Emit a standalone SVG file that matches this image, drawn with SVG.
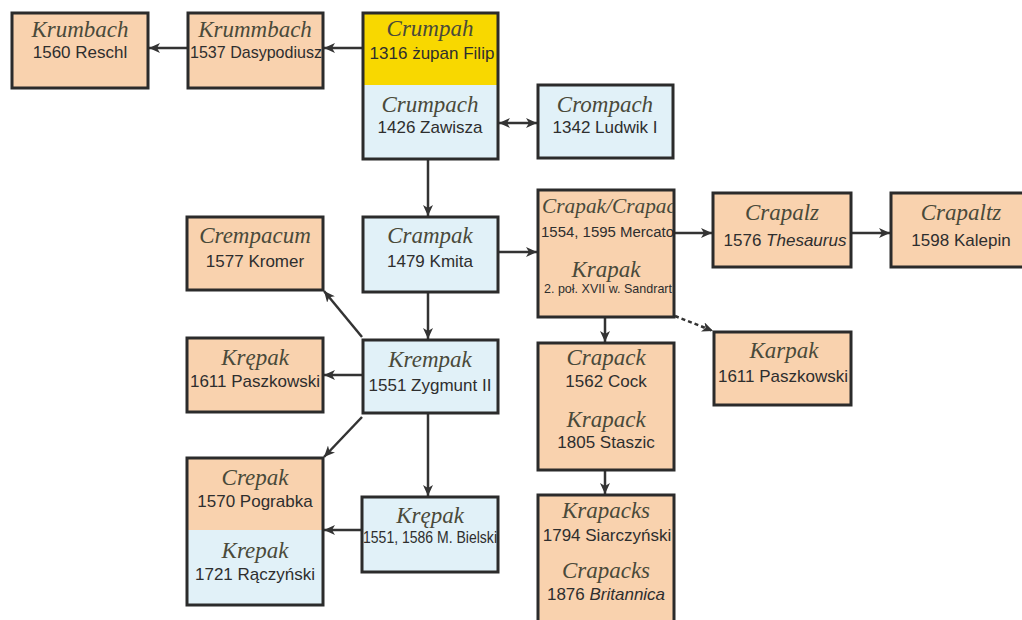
<svg xmlns="http://www.w3.org/2000/svg" width="1022" height="620" viewBox="0 0 1022 620">
<style>
.box{stroke:#2b2b2b;stroke-width:3}
.or{fill:#f9d2ae}
.bl{fill:#e1f1f8}
.ye{fill:#f8d800}
.nm{font-family:"Liberation Serif",serif;font-style:italic;font-size:23px;fill:#4a4a3a;text-anchor:middle}
.nu{font-family:"Liberation Sans",Arial,sans-serif;font-size:17px;fill:#2e2e2e;text-anchor:middle}
.it{font-style:italic}
.ln{stroke:#333;stroke-width:2.5;fill:none}
</style>
<defs>
<marker id="ah" markerUnits="userSpaceOnUse" markerWidth="12" markerHeight="10" refX="11" refY="5" orient="auto-start-reverse">
<path d="M0,0 L11,5 L0,10 L3,5 z" fill="#333"/>
</marker>
<clipPath id="c7"><rect x="540" y="191" width="133" height="125"/></clipPath>
</defs>
<rect width="1022" height="620" fill="#ffffff"/>

<g id="connectors">
<line class="ln" x1="188" y1="48" x2="149" y2="48" marker-end="url(#ah)"/>
<line class="ln" x1="363" y1="48" x2="324" y2="48" marker-end="url(#ah)"/>
<line class="ln" x1="499" y1="123" x2="537" y2="123" marker-start="url(#ah)" marker-end="url(#ah)"/>
<line class="ln" x1="428" y1="159" x2="428" y2="216" marker-end="url(#ah)"/>
<line class="ln" x1="428" y1="292" x2="428" y2="339" marker-end="url(#ah)"/>
<line class="ln" x1="362" y1="337" x2="324" y2="291" marker-end="url(#ah)"/>
<line class="ln" x1="363" y1="375" x2="324" y2="375" marker-end="url(#ah)"/>
<line class="ln" x1="362" y1="417" x2="324" y2="457" marker-end="url(#ah)"/>
<line class="ln" x1="428" y1="413" x2="428" y2="496" marker-end="url(#ah)"/>
<line class="ln" x1="362" y1="530" x2="324" y2="530" marker-end="url(#ah)"/>
<line class="ln" x1="498" y1="252" x2="537" y2="252" marker-end="url(#ah)"/>
<line class="ln" x1="674" y1="233" x2="712" y2="233" marker-end="url(#ah)"/>
<line class="ln" x1="851" y1="233" x2="890" y2="233" marker-end="url(#ah)"/>
<line class="ln" x1="605" y1="317" x2="605" y2="342" marker-end="url(#ah)"/>
<line class="ln" x1="675" y1="316" x2="713" y2="331" stroke-dasharray="4,3" marker-end="url(#ah)"/>
<line class="ln" x1="605" y1="470" x2="605" y2="494" marker-end="url(#ah)"/>
</g>

<g id="n-krumbach">
<rect class="box or" x="12" y="13" width="136" height="75"/>
<text class="nm" x="80" y="37">Krumbach</text>
<text class="nu" x="80" y="58">1560 Reschl</text>
</g>

<g id="n-krummbach">
<rect class="box or" x="188" y="13" width="135" height="75"/>
<text class="nm" x="255" y="37">Krummbach</text>
<text class="nu" x="256" y="58" textLength="132" lengthAdjust="spacingAndGlyphs">1537 Dasypodiusz</text>
</g>

<g id="n-crumpah">
<rect class="ye" x="363" y="13" width="135" height="72"/>
<rect class="bl" x="363" y="85" width="135" height="74"/>
<rect class="box" x="363" y="13" width="135" height="146" fill="none"/>
<text class="nm" x="430" y="36">Crumpah</text>
<text class="nu" x="432" y="59">1316 żupan Filip</text>
<text class="nm" x="430" y="112">Crumpach</text>
<text class="nu" x="430" y="133">1426 Zawisza</text>
</g>

<g id="n-crompach">
<rect class="box bl" x="538" y="85" width="135" height="73"/>
<text class="nm" x="605" y="112">Crompach</text>
<text class="nu" x="605" y="133">1342 Ludwik I</text>
</g>

<g id="n-crempacum">
<rect class="box or" x="187" y="217" width="136" height="73"/>
<text class="nm" x="255" y="243">Crempacum</text>
<text class="nu" x="255" y="267">1577 Kromer</text>
</g>

<g id="n-crampak">
<rect class="box bl" x="363" y="217" width="135" height="75"/>
<text class="nm" x="430" y="243">Crampak</text>
<text class="nu" x="430" y="267">1479 Kmita</text>
</g>

<g id="n-crapak">
<rect class="box or" x="538" y="190" width="136" height="127"/>
<g clip-path="url(#c7)">
<text class="nm" x="542" y="213" style="text-anchor:start;font-size:21px" textLength="134" lengthAdjust="spacingAndGlyphs">Crapak/Crapac</text>
<text class="nu" x="541" y="237" style="text-anchor:start;font-size:14px" textLength="138" lengthAdjust="spacingAndGlyphs">1554, 1595 Mercator</text>
<text class="nm" x="606" y="277">Krapak</text>
<text class="nu" x="544" y="293" style="text-anchor:start;font-size:13px" textLength="128" lengthAdjust="spacingAndGlyphs">2. poł. XVII w. Sandrart</text>
</g>
</g>

<g id="n-crapalz">
<rect class="box or" x="713" y="193" width="138" height="74"/>
<text class="nm" x="782" y="220">Crapalz</text>
<text class="nu" x="785" y="246">1576 <tspan class="it">Thesaurus</tspan></text>
</g>

<g id="n-crapaltz">
<rect class="box or" x="891" y="193" width="140" height="74"/>
<text class="nm" x="961" y="220">Crapaltz</text>
<text class="nu" x="961" y="246">1598 Kalepin</text>
</g>

<g id="n-krempak2">
<rect class="box or" x="187" y="338" width="136" height="74"/>
<text class="nm" x="255" y="365">Krępak</text>
<text class="nu" x="255" y="387">1611 Paszkowski</text>
</g>

<g id="n-krempak">
<rect class="box bl" x="363" y="340" width="135" height="73"/>
<text class="nm" x="430" y="367">Krempak</text>
<text class="nu" x="430" y="391">1551 Zygmunt II</text>
</g>

<g id="n-crepak">
<rect class="or" x="187" y="458" width="136" height="72"/>
<rect class="bl" x="187" y="530" width="136" height="75"/>
<rect class="box" x="187" y="458" width="136" height="147" fill="none"/>
<text class="nm" x="255" y="485">Crepak</text>
<text class="nu" x="255" y="507">1570 Pograbka</text>
<text class="nm" x="255" y="558">Krepak</text>
<text class="nu" x="255" y="580">1721 Rączyński</text>
</g>

<g id="n-krepak-bielski">
<rect class="box bl" x="362" y="497" width="136" height="75"/>
<text class="nm" x="430" y="523">Krępak</text>
<text class="nu" x="430" y="543" style="font-size:16px" textLength="134" lengthAdjust="spacingAndGlyphs">1551, 1586 M. Bielski</text>
</g>

<g id="n-crapack">
<rect class="box or" x="538" y="343" width="136" height="127"/>
<text class="nm" x="606" y="365">Crapack</text>
<text class="nu" x="606" y="387">1562 Cock</text>
<text class="nm" x="606" y="427">Krapack</text>
<text class="nu" x="606" y="448">1805 Staszic</text>
</g>

<g id="n-karpak">
<rect class="box or" x="714" y="332" width="137" height="73"/>
<text class="nm" x="784" y="358">Karpak</text>
<text class="nu" x="783" y="382">1611 Paszkowski</text>
</g>

<g id="n-krapacks">
<rect class="box or" x="538" y="495" width="136" height="130"/>
<text class="nm" x="606" y="518">Krapacks</text>
<text class="nu" x="607" y="541">1794 Siarczyński</text>
<text class="nm" x="606" y="578">Crapacks</text>
<text class="nu" x="606" y="600">1876 <tspan class="it">Britannica</tspan></text>
</g>
</svg>
